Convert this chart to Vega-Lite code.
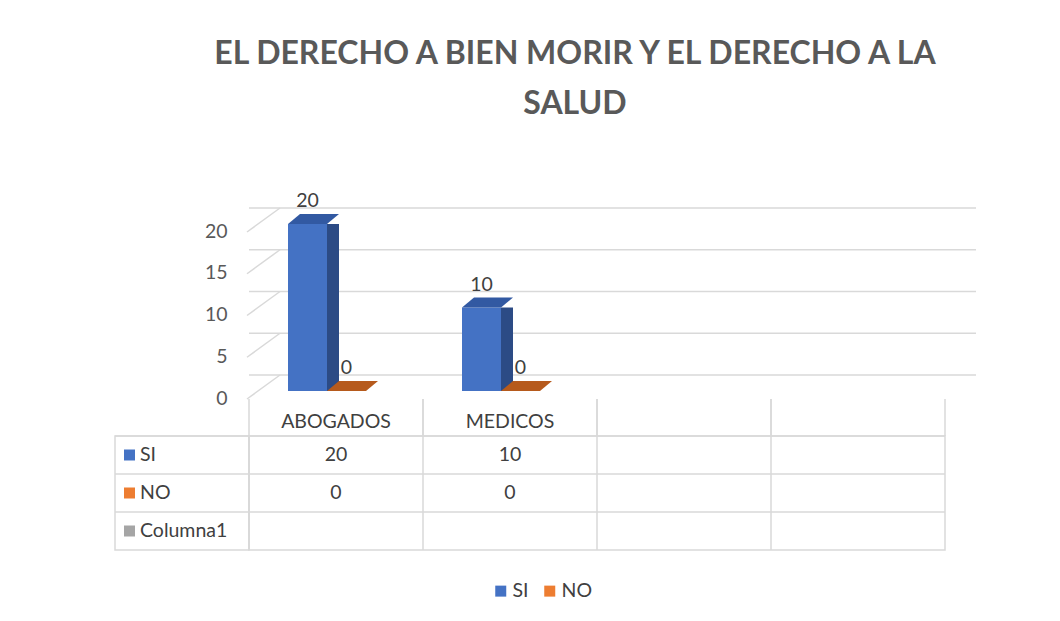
{
  "$schema": "https://vega.github.io/schema/vega-lite/v6.json",
  "autosize": {"type": "pad"},
  "padding": {"left": 113, "top": 38, "right": 82, "bottom": 20},
  "background": "white",
  "title": {
    "text": ["EL DERECHO A BIEN MORIR Y EL DERECHO A LA", "SALUD"],
    "fontSize": 32,
    "fontWeight": "bold",
    "color": "#595959",
    "lineHeight": 50,
    "anchor": "middle",
    "frame": "group",
    "dx": 460,
    "offset": 70
  },
  "datasets": {
    "tabla": [
      {"categoria": "ABOGADOS", "serie": "SI", "valor": 20},
      {"categoria": "ABOGADOS", "serie": "NO", "valor": 0},
      {"categoria": "ABOGADOS", "serie": "Columna1", "valor": null},
      {"categoria": "MEDICOS", "serie": "SI", "valor": 10},
      {"categoria": "MEDICOS", "serie": "NO", "valor": 0},
      {"categoria": "MEDICOS", "serie": "Columna1", "valor": null},
      {"categoria": " ", "serie": "SI", "valor": null},
      {"categoria": " ", "serie": "NO", "valor": null},
      {"categoria": " ", "serie": "Columna1", "valor": null},
      {"categoria": "  ", "serie": "SI", "valor": null},
      {"categoria": "  ", "serie": "NO", "valor": null},
      {"categoria": "  ", "serie": "Columna1", "valor": null}
    ],
    "ejes": [{"valor": 0}, {"valor": 5}, {"valor": 10}, {"valor": 15}, {"valor": 20}]
  },
  "columns": 2,
  "spacing": {"row": 45, "column": 0},
  "bounds": "flush",
  "resolve": {"scale": {"x": "independent", "y": "independent", "color": "shared"}},
  "concat": [
    {
      "width": 134,
      "height": 167,
      "data": {"values": [{"a": 1}]},
      "mark": {"type": "point", "opacity": 0},
      "encoding": {}
    },
    {
      "width": 696,
      "height": 167,
      "data": {"name": "tabla"},
      "layer": [
        {
          "data": {"name": "ejes"},
          "mark": {"type": "rule", "color": "#d9d9d9", "strokeWidth": 1.5, "xOffset": 31, "x2Offset": 35, "yOffset": -16},
          "encoding": {
            "y": {
              "field": "valor",
              "type": "quantitative",
              "scale": {"domain": [0, 20], "nice": false, "zero": true},
              "axis": {
                "values": [0, 5, 10, 15, 20],
                "domain": false,
                "ticks": false,
                "grid": false,
                "labelPadding": 22,
                "labelOffset": 7,
                "labelFontSize": 19.5,
                "labelColor": "#595959",
                "title": null
              }
            }
          }
        },
        {
          "data": {"name": "ejes"},
          "mark": {"type": "rule", "color": "#d9d9d9", "strokeWidth": 1.5, "xOffset": -2, "x2Offset": 31, "yOffset": 8, "y2Offset": -16},
          "encoding": {
            "x": {"datum": "ABOGADOS", "type": "nominal", "bandPosition": 0},
            "x2": {"datum": "ABOGADOS", "bandPosition": 0},
            "y": {"field": "valor", "type": "quantitative"},
            "y2": {"field": "valor"}
          }
        },
        {
          "transform": [{"filter": "datum.serie === 'SI'"}],
          "mark": {"type": "rule", "color": "#d9d9d9", "strokeWidth": 1.5, "yOffset": 8, "y2Offset": 45},
          "encoding": {
            "x": {"field": "categoria", "type": "nominal", "bandPosition": 0},
            "y": {"datum": 0, "type": "quantitative"},
            "y2": {"datum": 0}
          }
        },
        {
          "transform": [{"filter": "datum.serie === 'SI'"}],
          "mark": {"type": "rule", "color": "#d9d9d9", "strokeWidth": 1.5, "yOffset": 8, "y2Offset": 45},
          "encoding": {
            "x": {"field": "categoria", "type": "nominal", "bandPosition": 1},
            "y": {"datum": 0, "type": "quantitative"},
            "y2": {"datum": 0}
          }
        },
        {
          "transform": [{"filter": "datum.serie === 'SI' && isValid(datum.valor)"}],
          "mark": {"type": "bar", "width": 39, "xOffset": -28.5},
          "encoding": {
            "x": {
              "field": "categoria",
              "type": "nominal",
              "sort": null,
              "scale": {"domain": ["ABOGADOS", "MEDICOS", " ", "  "], "paddingInner": 0, "paddingOuter": 0},
              "axis": {
                "orient": "bottom",
                "domain": false,
                "ticks": false,
                "tickSize": 0,
                "labelPadding": 30,
                "labelAlign": "center",
                "labelBaseline": "middle",
                "labelAngle": 0,
                "labelFontSize": 19.5,
                "labelColor": "#404040",
                "grid": false,
                "title": null
              }
            },
            "y": {"field": "valor", "type": "quantitative"},
            "color": {
              "field": "serie",
              "type": "nominal",
              "scale": {"domain": ["SI", "NO", "Columna1"], "range": ["#4472C4", "#ED7D31", "#A5A5A5"]},
              "legend": {
                "values": ["SI", "NO"],
                "orient": "none",
                "legendX": 376,
                "legendY": 357,
                "direction": "horizontal",
                "title": null,
                "symbolType": "square",
                "symbolSize": 121,
                "symbolStrokeWidth": 0,
                "labelFontSize": 19.5,
                "labelColor": "#404040",
                "labelOffset": 2,
                "columnPadding": 11,
                "padding": 0
              }
            }
          }
        },
        {
          "transform": [{"filter": "datum.serie === 'NO' && isValid(datum.valor)"}],
          "mark": {"type": "bar", "width": 39, "xOffset": 10.5},
          "encoding": {
            "x": {"field": "categoria", "type": "nominal"},
            "y": {"field": "valor", "type": "quantitative"},
            "color": {"field": "serie", "type": "nominal"}
          }
        },
        {
          "transform": [{"filter": "datum.serie === 'SI' && datum.valor > 0"}],
          "mark": {"type": "bar", "width": 12, "xOffset": -3, "y2Offset": -10, "color": "#2C4B85"},
          "encoding": {
            "x": {"field": "categoria", "type": "nominal"},
            "y": {"field": "valor", "type": "quantitative"}
          }
        },
        {
          "transform": [{"filter": "datum.serie === 'NO' && datum.valor > 0"}],
          "mark": {"type": "bar", "width": 12, "xOffset": 36, "y2Offset": -10, "color": "#9A4A15"},
          "encoding": {
            "x": {"field": "categoria", "type": "nominal"},
            "y": {"field": "valor", "type": "quantitative"}
          }
        },
        {
          "transform": [{"filter": "datum.serie === 'SI' && isValid(datum.valor)"}],
          "mark": {
            "type": "point",
            "shape": "M-1,0.196L0.529,0.196L1,-0.196L-0.529,-0.196Z",
            "size": 2601,
            "filled": true,
            "opacity": 1,
            "strokeWidth": 0,
            "color": "#3259A2",
            "xOffset": -22.5,
            "yOffset": -5
          },
          "encoding": {
            "x": {"field": "categoria", "type": "nominal"},
            "y": {"field": "valor", "type": "quantitative"}
          }
        },
        {
          "transform": [{"filter": "datum.serie === 'NO' && isValid(datum.valor)"}],
          "mark": {
            "type": "point",
            "shape": "M-1,0.196L0.529,0.196L1,-0.196L-0.529,-0.196Z",
            "size": 2601,
            "filled": true,
            "opacity": 1,
            "strokeWidth": 0,
            "color": "#B65A1C",
            "xOffset": 16.5,
            "yOffset": -5
          },
          "encoding": {
            "x": {"field": "categoria", "type": "nominal"},
            "y": {"field": "valor", "type": "quantitative"}
          }
        },
        {
          "transform": [{"filter": "datum.serie === 'SI' && isValid(datum.valor)"}],
          "mark": {"type": "text", "xOffset": -28.5, "dy": -17, "baseline": "alphabetic", "fontSize": 19.5, "color": "#404040"},
          "encoding": {
            "x": {"field": "categoria", "type": "nominal"},
            "y": {"field": "valor", "type": "quantitative"},
            "text": {"field": "valor", "type": "quantitative"}
          }
        },
        {
          "transform": [{"filter": "datum.serie === 'NO' && isValid(datum.valor)"}],
          "mark": {"type": "text", "xOffset": 10.5, "dy": -17, "baseline": "alphabetic", "fontSize": 19.5, "color": "#404040"},
          "encoding": {
            "x": {"field": "categoria", "type": "nominal"},
            "y": {"field": "valor", "type": "quantitative"},
            "text": {"field": "valor", "type": "quantitative"}
          }
        }
      ]
    },
    {
      "width": 134,
      "height": 114,
      "view": {"stroke": "#d9d9d9", "strokeWidth": 1.5},
      "data": {"name": "tabla"},
      "transform": [{"filter": "datum.categoria === 'ABOGADOS'"}],
      "encoding": {
        "y": {
          "field": "serie",
          "type": "nominal",
          "sort": null,
          "scale": {"domain": ["SI", "NO", "Columna1"], "paddingInner": 0, "paddingOuter": 0},
          "axis": null
        }
      },
      "layer": [
        {
          "mark": {"type": "rule", "color": "#d9d9d9", "strokeWidth": 1.5},
          "encoding": {
            "y": {"field": "serie", "type": "nominal", "bandPosition": 0}
          }
        },
        {
          "mark": {"type": "point", "shape": "square", "size": 121, "filled": true, "opacity": 1, "strokeWidth": 0, "xOffset": -52.5},
          "encoding": {
            "color": {
              "field": "serie",
              "type": "nominal",
              "scale": {"domain": ["SI", "NO", "Columna1"], "range": ["#4472C4", "#ED7D31", "#A5A5A5"]},
              "legend": {
                "values": ["SI", "NO"],
                "orient": "none",
                "legendX": 376,
                "legendY": 357,
                "direction": "horizontal",
                "title": null,
                "symbolType": "square",
                "symbolSize": 121,
                "symbolStrokeWidth": 0,
                "labelFontSize": 19.5,
                "labelColor": "#404040",
                "labelOffset": 2,
                "columnPadding": 11,
                "padding": 0
              }
            }
          }
        },
        {
          "mark": {"type": "text", "align": "left", "dx": -42, "fontSize": 19.5, "color": "#404040"},
          "encoding": {"text": {"field": "serie", "type": "nominal"}}
        }
      ]
    },
    {
      "width": 696,
      "height": 114,
      "view": {"stroke": "#d9d9d9", "strokeWidth": 1.5},
      "data": {"name": "tabla"},
      "encoding": {
        "x": {
          "field": "categoria",
          "type": "nominal",
          "scale": {"domain": ["ABOGADOS", "MEDICOS", " ", "  "], "paddingInner": 0, "paddingOuter": 0},
          "axis": null
        },
        "y": {
          "field": "serie",
          "type": "nominal",
          "scale": {"domain": ["SI", "NO", "Columna1"], "paddingInner": 0, "paddingOuter": 0},
          "axis": null
        }
      },
      "layer": [
        {
          "transform": [{"filter": "datum.serie === 'SI'"}],
          "mark": {"type": "rule", "color": "#d9d9d9", "strokeWidth": 1.5},
          "encoding": {
            "x": {"field": "categoria", "type": "nominal", "bandPosition": 0},
            "y": null
          }
        },
        {
          "transform": [{"filter": "datum.categoria === 'ABOGADOS'"}],
          "mark": {"type": "rule", "color": "#d9d9d9", "strokeWidth": 1.5},
          "encoding": {
            "x": null,
            "y": {"field": "serie", "type": "nominal", "bandPosition": 0}
          }
        },
        {
          "transform": [{"filter": "isValid(datum.valor)"}],
          "mark": {"type": "text", "fontSize": 19.5, "color": "#404040"},
          "encoding": {
            "text": {"field": "valor", "type": "quantitative"}
          }
        }
      ]
    }
  ],
  "config": {
    "font": "Lato",
    "view": {"stroke": null},
    "axis": {"labelFont": "Lato"},
    "legend": {"labelFont": "Lato"},
    "title": {"font": "Lato"},
    "text": {"font": "Lato"}
  }
}
